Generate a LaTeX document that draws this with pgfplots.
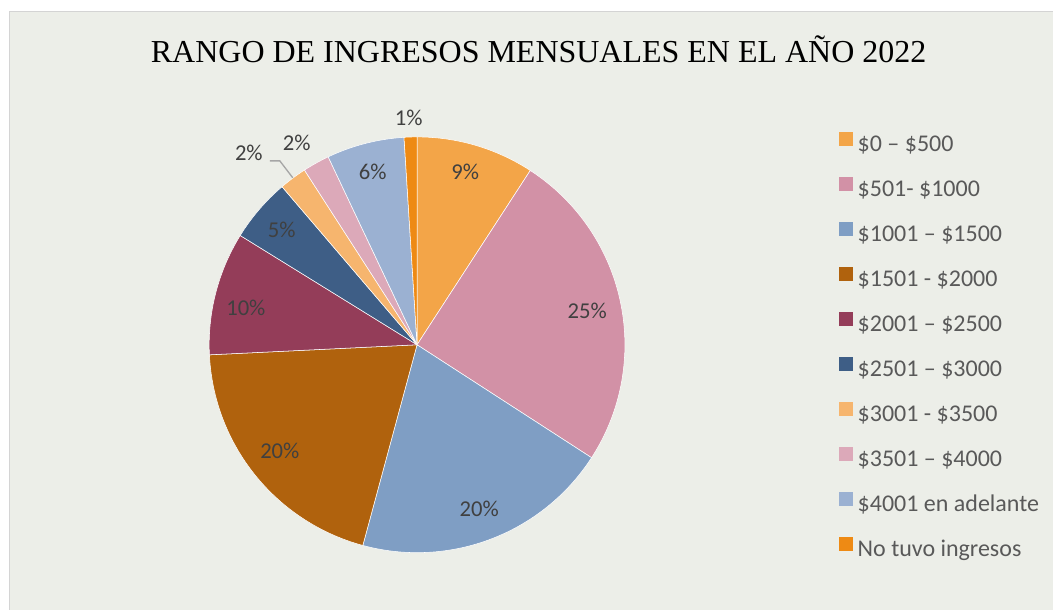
\documentclass[border=0pt]{standalone}
\usepackage{pgfplots}
\pgfplotsset{compat=1.18}
\usepackage{pgfplotstable}
\usepackage{fontspec}
\setmainfont{Liberation Serif}
\newfontfamily\calib{Carlito}

\definecolor{bg}{HTML}{ECEEE8}
\definecolor{frame}{HTML}{D4D4D4}
\definecolor{lbl}{HTML}{404040}
\definecolor{leg}{HTML}{595959}
\definecolor{c0}{HTML}{F3A548}
\definecolor{c1}{HTML}{D291A6}
\definecolor{c2}{HTML}{7F9EC4}
\definecolor{c3}{HTML}{B0620D}
\definecolor{c4}{HTML}{943D59}
\definecolor{c5}{HTML}{3E5E86}
\definecolor{c6}{HTML}{F6B56E}
\definecolor{c7}{HTML}{DCA9B9}
\definecolor{c8}{HTML}{9BB1D2}
\definecolor{c9}{HTML}{EE8A14}

% share of each income range, in percent (clockwise from 12 o'clock)
\pgfplotstableread{
idx value
0 9.17
1 24.97
2 20.06
3 20.03
4 9.58
5 4.94
6 2.14
7 2.08
8 6.03
9 1.00
}\piedata

\newcommand\slice[2]{%
  \edef\tmp{\noexpand\addplot[fill=c#1, draw=white, line width=0.4pt,
    domain=\csname pa#1\endcsname:\csname pb#1\endcsname, samples=80]}%
  \tmp ({417.3+208*sin(x)},{265+208*cos(x)}) -- (axis cs:417.3,265) -- cycle;
  \addlegendentry{#2}}

\begin{document}
\begin{tikzpicture}
\def\cum{0}
\pgfplotsforeachungrouped \i in {0,...,9}{%
  \pgfplotstablegetelem{\i}{value}\of\piedata
  \pgfmathsetmacro\nxt{\cum+3.6*\pgfplotsretval}%
  \expandafter\xdef\csname pa\i\endcsname{\cum}%
  \expandafter\xdef\csname pb\i\endcsname{\nxt}%
  \xdef\cum{\nxt}%
}
\begin{scope}[x=0.75pt,y=0.75pt]
  \fill[white] (0,0) rectangle (1054,610);
  \fill[bg] (9,0) rectangle (1054,598);
  \draw[frame, line width=1pt] (9.5,0) -- (9.5,598.5) -- (1054,598.5);
\end{scope}
\begin{axis}[
  x=0.75pt, y=0.75pt, xmin=0, xmax=1054, ymin=0, ymax=610,
  scale only axis, hide axis, clip=false,
  legend image code/.code={\fill[#1,draw=none] (0pt,0pt) rectangle (10.5pt,10.5pt);},
  legend cell align=left,
  legend style={at={(axis cs:839,478.5)}, anchor=north west, draw=none, fill=none,
    inner sep=0pt, row sep=15.3pt, column sep=3.75pt,
    font=\calib\fontsize{18}{21}\selectfont, text=leg,
    nodes={inner sep=0pt, text height=12pt, text depth=4pt}},
]
\slice{0}{\$0 – \$500}
\slice{1}{\$501- \$1000}
\slice{2}{\$1001 – \$1500}
\slice{3}{\$1501 - \$2000}
\slice{4}{\$2001 – \$2500}
\slice{5}{\$2501 – \$3000}
\slice{6}{\$3001 - \$3500}
\slice{7}{\$3501 – \$4000}
\slice{8}{\$4001 en adelante}
\slice{9}{No tuvo ingresos}

\draw[color=black!35, line width=1pt] (axis cs:270,449) -- (axis cs:280,449) -- (axis cs:293,432);

\begin{scope}[every node/.style={font=\calib\fontsize{17}{20}\selectfont, text=lbl}]
\node at (axis cs:465.5,438.5) {9\%};
\node at (axis cs:587.5,299) {25\%};
\node at (axis cs:479.5,100.5) {20\%};
\node at (axis cs:280,158.7) {20\%};
\node at (axis cs:246,302) {10\%};
\node at (axis cs:282,380) {5\%};
\node at (axis cs:249,457) {2\%};
\node at (axis cs:297,467) {2\%};
\node at (axis cs:373,438) {6\%};
\node at (axis cs:409,492) {1\%};
\end{scope}

\node[anchor=base, font=\fontsize{24}{28}\selectfont] at (axis cs:539,547.7)
  {RANGO DE INGRESOS MENSUALES EN EL AÑO 2022};
\end{axis}
\end{tikzpicture}
\end{document}
